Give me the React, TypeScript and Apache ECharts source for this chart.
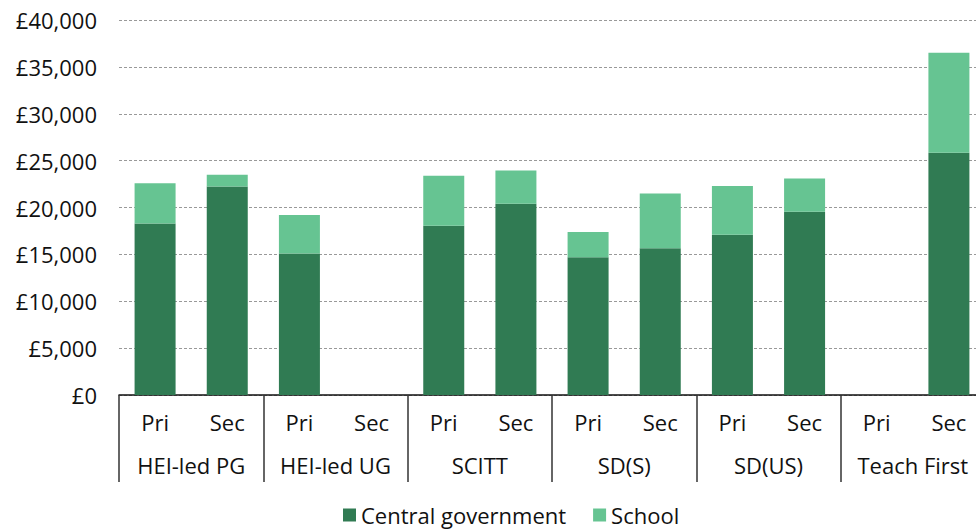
import React, { useEffect, useRef } from "react";
import * as echarts from "echarts";

const phases = ["Pri", "Sec", "Pri", "Sec", "Pri", "Sec", "Pri", "Sec", "Pri", "Sec", "Pri", "Sec"];
const routes = ["HEI-led PG", "HEI-led UG", "SCITT", "SD(S)", "SD(US)", "Teach First"];
const centralGovernment: (number | null)[] = [18300, 22250, 15100, null, 18050, 20400, 14700, 15650, 17100, 19550, null, 25850];
const school: (number | null)[] = [4300, 1250, 4100, null, 5350, 3550, 2700, 5850, 5200, 3550, null, 10650];
const yTicks = { min: 0, max: 40000, interval: 5000 };

const FONT = "'Open Sans', 'Noto Sans', sans-serif";

export default function App() {
  const ref = useRef<HTMLDivElement>(null);
  useEffect(() => {
    if (!ref.current) return;
    const chart = echarts.init(ref.current, undefined, { renderer: "svg" });
    chart.setOption({
      animation: false,
      textStyle: { fontFamily: FONT },
      grid: { left: 119, top: 20, bottom: 137, width: 866, containLabel: false },
      legend: {
        bottom: 1,
        left: 338,
        itemWidth: 13,
        itemHeight: 13,
        itemGap: 27,
        icon: "rect",
        textStyle: { fontSize: 22, color: "#111", fontFamily: FONT },
        data: ["Central government", "School"],
      },
      yAxis: {
        type: "value",
        min: yTicks.min,
        max: yTicks.max,
        interval: yTicks.interval,
        axisLine: { show: false },
        axisTick: { show: false },
        axisLabel: {
          fontSize: 22,
          color: "#111",
          margin: 22,
          formatter: (v: number) => "£" + v.toLocaleString("en-GB"),
        },
        splitLine: { lineStyle: { color: "#999", type: [3, 2], width: 1 } },
      },
      xAxis: [
        {
          type: "category",
          data: phases,
          position: "bottom",
          axisLine: { show: true, lineStyle: { color: "#111", width: 1.5 } },
          axisTick: { show: false },
          axisLabel: { fontSize: 22, color: "#111", margin: 16, interval: 0 },
        },
        {
          type: "category",
          data: routes,
          position: "bottom",
          axisLine: { show: false },
          axisTick: { show: true, interval: 0, length: 87, lineStyle: { color: "#333", width: 1.5 } },
          axisLabel: { fontSize: 22, color: "#111", margin: 59, interval: 0 },
        },
      ],
      series: [
        {
          name: "Central government",
          type: "bar",
          stack: "total",
          xAxisIndex: 0,
          barWidth: 41,
          data: centralGovernment,
          itemStyle: { color: "#307b53" },
        },
        {
          name: "School",
          type: "bar",
          stack: "total",
          xAxisIndex: 0,
          barWidth: 41,
          data: school,
          itemStyle: { color: "#66c492" },
        },
      ],
    });
    return () => chart.dispose();
  }, []);
  return (
    <div style={{ width: 976, height: 532, position: "absolute", left: 0, top: 0, overflow: "hidden" }}>
      <div ref={ref} style={{ width: 1000, height: 532 }} />
    </div>
  );
}
